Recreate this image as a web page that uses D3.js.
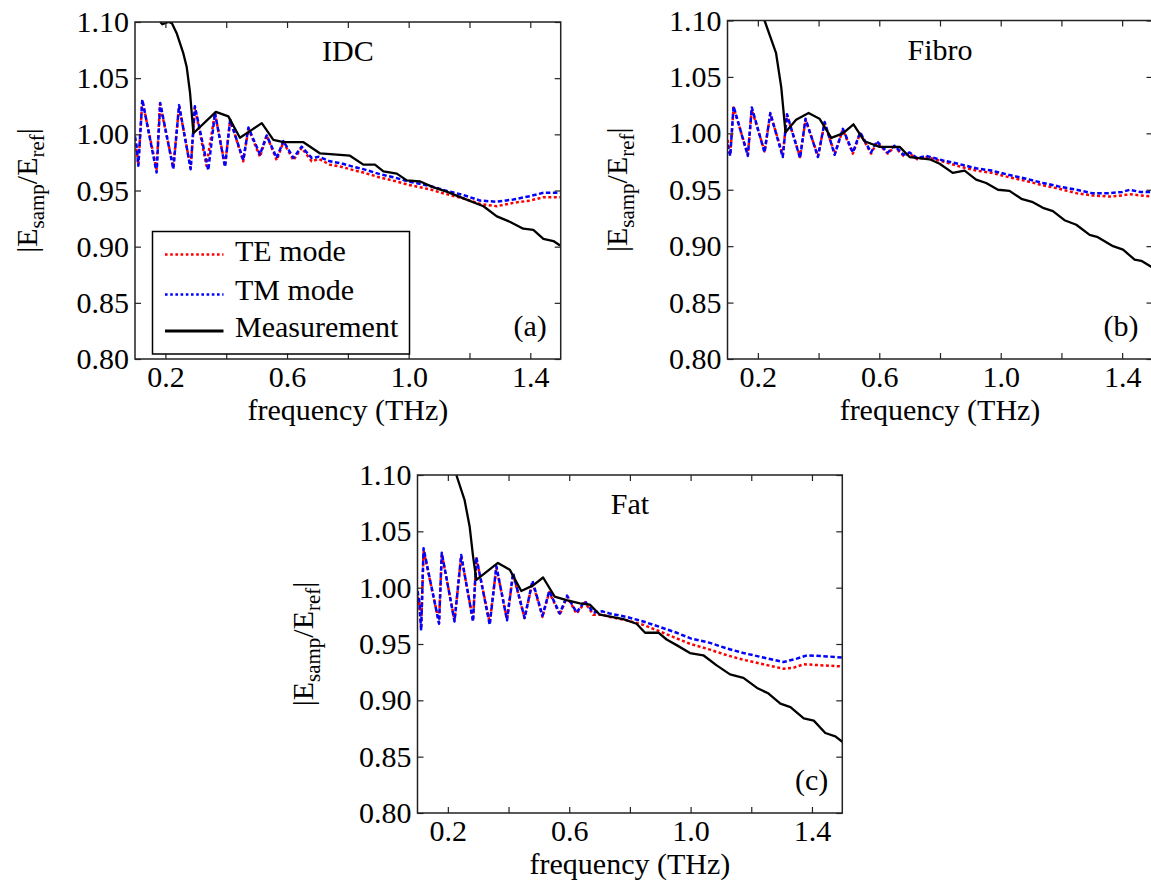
<!DOCTYPE html>
<html>
<head>
<meta charset="utf-8">
<script src="https://cdn.jsdelivr.net/npm/d3@7"></script>
<style>
body { margin: 0; background: #fff; }
svg text { fill: #000; }
</style>
</head>
<body>
<svg id="chart" width="1151" height="886"></svg>
<script>
// axis settings
var xDomain = [0.1, 1.5];
var yDomain = [0.80, 1.10];
var xTicks = [0.2, 0.4, 0.6, 0.8, 1.0, 1.2, 1.4];
var xLabeled = [0.2, 0.6, 1.0, 1.4];
var yTicks = [0.80, 0.85, 0.90, 0.95, 1.00, 1.05, 1.10];
var seriesNames = ["TE mode", "TM mode", "Measurement"];

// (a) IDC  -- [frequency THz, |Esamp/Eref|]
var idcTE = [[0.100,0.992],[0.106,0.985],[0.111,0.973],[0.124,1.030],[0.171,0.969],[0.182,1.027],[0.226,0.971],[0.245,1.025],[0.283,0.970],[0.297,1.024],[0.335,0.972],[0.363,1.019],[0.396,0.972],[0.413,1.013],[0.456,0.976],[0.473,1.005],[0.511,0.980],[0.533,0.999],[0.566,0.977],[0.588,0.993],[0.621,0.977],[0.648,0.988],[0.681,0.976],[0.705,0.978],[0.741,0.973],[0.78,0.971],[0.82,0.968],[0.851,0.966],[0.90,0.962],[0.961,0.958],[1.00,0.955],[1.07,0.951],[1.12,0.947],[1.18,0.943],[1.235,0.938],[1.29,0.936],[1.344,0.939],[1.399,0.941],[1.443,0.944],[1.498,0.944]];
var idcTM = [[0.100,0.998],[0.105,0.990],[0.111,0.972],[0.124,1.031],[0.171,0.966],[0.183,1.028],[0.226,0.969],[0.245,1.026],[0.283,0.969],[0.297,1.025],[0.341,0.968],[0.363,1.019],[0.396,0.971],[0.413,1.013],[0.456,0.977],[0.473,1.006],[0.511,0.982],[0.533,0.999],[0.566,0.979],[0.588,0.994],[0.621,0.979],[0.648,0.989],[0.681,0.979],[0.705,0.980],[0.741,0.976],[0.78,0.974],[0.82,0.971],[0.851,0.969],[0.90,0.965],[0.961,0.961],[1.00,0.958],[1.07,0.954],[1.12,0.950],[1.18,0.946],[1.235,0.941],[1.29,0.940],[1.344,0.942],[1.399,0.945],[1.443,0.948],[1.498,0.948]];
var idcMeas = [[0.183,1.100],[0.190,1.098],[0.210,1.100],[0.221,1.099],[0.237,1.090],[0.259,1.072],[0.270,1.060],[0.281,1.037],[0.292,1.001],[0.366,1.020],[0.407,1.016],[0.445,0.997],[0.484,1.004],[0.517,1.010],[0.555,0.995],[0.588,0.993],[0.654,0.993],[0.709,0.983],[0.807,0.981],[0.851,0.973],[0.889,0.973],[0.917,0.967],[0.961,0.965],[0.994,0.959],[1.038,0.958],[1.080,0.953],[1.125,0.949],[1.180,0.943],[1.246,0.936],[1.290,0.927],[1.334,0.922],[1.377,0.916],[1.410,0.915],[1.443,0.907],[1.476,0.905],[1.498,0.901]];

// (b) Fibro
var fibroTE = [[0.100,0.994],[0.109,0.981],[0.120,1.023],[0.167,0.981],[0.180,1.021],[0.222,0.984],[0.241,1.017],[0.282,0.981],[0.296,1.016],[0.339,0.979],[0.357,1.012],[0.398,0.980],[0.420,1.009],[0.453,0.982],[0.480,1.003],[0.513,0.982],[0.537,1.000],[0.573,0.982],[0.592,0.992],[0.628,0.982],[0.650,0.988],[0.680,0.980],[0.700,0.982],[0.725,0.977],[0.755,0.979],[0.81,0.975],[0.86,0.971],[0.919,0.967],[0.97,0.965],[1.029,0.961],[1.08,0.958],[1.139,0.954],[1.19,0.951],[1.249,0.947],[1.30,0.945],[1.359,0.944],[1.40,0.945],[1.425,0.946],[1.46,0.945],[1.50,0.944]];
var fibroTM = [[0.100,0.990],[0.109,0.980],[0.120,1.024],[0.167,0.980],[0.180,1.023],[0.222,0.983],[0.241,1.018],[0.282,0.979],[0.296,1.017],[0.339,0.978],[0.357,1.013],[0.398,0.979],[0.420,1.010],[0.453,0.981],[0.480,1.004],[0.513,0.983],[0.537,1.001],[0.573,0.983],[0.592,0.993],[0.628,0.983],[0.650,0.989],[0.680,0.981],[0.700,0.983],[0.725,0.978],[0.755,0.980],[0.81,0.976],[0.86,0.973],[0.919,0.969],[0.97,0.967],[1.029,0.963],[1.08,0.960],[1.139,0.956],[1.19,0.953],[1.249,0.950],[1.30,0.947],[1.359,0.947],[1.40,0.948],[1.425,0.950],[1.46,0.948],[1.50,0.948]];
var fibroMeas = [[0.222,1.100],[0.260,1.071],[0.277,1.041],[0.291,1.001],[0.326,1.012],[0.367,1.018],[0.403,1.013],[0.442,0.996],[0.480,1.000],[0.515,1.008],[0.551,0.993],[0.601,0.988],[0.667,0.988],[0.700,0.979],[0.766,0.977],[0.799,0.973],[0.842,0.965],[0.881,0.967],[0.919,0.959],[0.952,0.956],[0.991,0.950],[1.029,0.949],[1.068,0.942],[1.106,0.939],[1.139,0.934],[1.172,0.931],[1.210,0.923],[1.249,0.919],[1.293,0.910],[1.320,0.908],[1.370,0.900],[1.403,0.897],[1.441,0.888],[1.463,0.887],[1.500,0.881]];

// (c) Fat
var fatTE = [[0.100,0.992],[0.106,0.985],[0.112,0.964],[0.120,1.033],[0.171,0.969],[0.180,1.030],[0.222,0.971],[0.244,1.028],[0.283,0.971],[0.294,1.026],[0.338,0.969],[0.360,1.018],[0.395,0.972],[0.415,1.012],[0.453,0.973],[0.479,1.005],[0.512,0.974],[0.534,0.996],[0.569,0.976],[0.593,0.992],[0.624,0.977],[0.652,0.987],[0.679,0.976],[0.71,0.976],[0.734,0.974],[0.79,0.971],[0.844,0.967],[0.90,0.961],[0.954,0.955],[1.00,0.950],[1.064,0.945],[1.12,0.940],[1.174,0.936],[1.24,0.932],[1.306,0.928],[1.34,0.929],[1.373,0.932],[1.439,0.931],[1.501,0.930]];
var fatTM = [[0.100,0.997],[0.106,0.988],[0.112,0.962],[0.120,1.035],[0.171,0.968],[0.180,1.031],[0.222,0.970],[0.244,1.029],[0.283,0.970],[0.294,1.027],[0.338,0.967],[0.360,1.019],[0.395,0.971],[0.415,1.013],[0.453,0.973],[0.479,1.006],[0.512,0.975],[0.534,0.997],[0.569,0.977],[0.593,0.993],[0.624,0.978],[0.652,0.988],[0.679,0.978],[0.71,0.979],[0.734,0.977],[0.79,0.974],[0.844,0.970],[0.90,0.965],[0.954,0.960],[1.00,0.955],[1.064,0.951],[1.12,0.946],[1.174,0.942],[1.24,0.938],[1.306,0.934],[1.35,0.937],[1.384,0.940],[1.45,0.939],[1.501,0.938]];
var fatMeas = [[0.228,1.100],[0.255,1.078],[0.272,1.054],[0.283,1.028],[0.294,1.007],[0.365,1.022],[0.404,1.016],[0.442,0.997],[0.481,1.002],[0.514,1.009],[0.552,0.992],[0.591,0.989],[0.635,0.986],[0.668,0.985],[0.701,0.976],[0.778,0.972],[0.822,0.968],[0.850,0.960],[0.894,0.960],[0.921,0.954],[0.954,0.949],[0.998,0.942],[1.042,0.940],[1.086,0.931],[1.130,0.923],[1.174,0.920],[1.219,0.911],[1.257,0.906],[1.296,0.897],[1.329,0.894],[1.373,0.884],[1.406,0.882],[1.444,0.871],[1.477,0.868],[1.501,0.863]];

var serif = "'Liberation Serif', 'Times New Roman', serif";
var styles = [
  {color: "#ff0000", width: 2.5, dash: "3,2.5"},
  {color: "#0000ff", width: 2.5, dash: "4.5,2.5"},
  {color: "#000000", width: 2.3, dash: null}
];

var panels = [
  {title: "IDC", tag: "(a)", series: [idcTE, idcTM, idcMeas], left: 135, right: 560.7, top: 22, bottom: 359, ylabX: 37, legend: true},
  {title: "Fibro", tag: "(b)", series: [fibroTE, fibroTM, fibroMeas], left: 727.5, right: 1152.5, top: 20.5, bottom: 359, ylabX: 627, legend: false},
  {title: "Fat", tag: "(c)", series: [fatTE, fatTM, fatMeas], left: 417.5, right: 842.3, top: 475, bottom: 813, ylabX: 313, legend: false}
];

var svg = d3.select("#chart");
var fs = 30;

panels.forEach(function(p, pi) {
  var x = d3.scaleLinear().domain(xDomain).range([p.left, p.right]);
  var y = d3.scaleLinear().domain(yDomain).range([p.bottom, p.top]);
  var g = svg.append("g");

  g.append("clipPath").attr("id", "clip" + pi)
    .append("rect").attr("x", p.left).attr("y", p.top)
    .attr("width", p.right - p.left).attr("height", p.bottom - p.top);

  var line = d3.line().x(function(d) { return x(d[0]); }).y(function(d) { return y(d[1]); });

  p.series.forEach(function(s, i) {
    g.append("path").datum(s)
      .attr("d", line)
      .attr("clip-path", "url(#clip" + pi + ")")
      .style("fill", "none").style("stroke", styles[i].color)
      .style("stroke-width", styles[i].width)
      .style("stroke-dasharray", styles[i].dash)
      .style("stroke-linejoin", "round");
  });

  // axes, ticks pointing inward on all sides
  var bx = g.append("g").attr("transform", "translate(0," + p.bottom + ")")
    .call(d3.axisBottom(x).tickValues(xTicks).tickSize(-6).tickPadding(7)
      .tickFormat(function(d) { return xLabeled.indexOf(d) >= 0 ? d3.format(".1f")(d) : ""; }));
  var ly = g.append("g").attr("transform", "translate(" + p.left + ",0)")
    .call(d3.axisLeft(y).tickValues(yTicks).tickSize(-6).tickPadding(6).tickFormat(d3.format(".2f")));
  var tx = g.append("g").attr("transform", "translate(0," + p.top + ")")
    .call(d3.axisTop(x).tickValues(xTicks).tickSize(-6).tickFormat(""));
  var ry = g.append("g").attr("transform", "translate(" + p.right + ",0)")
    .call(d3.axisRight(y).tickValues(yTicks).tickSize(-6).tickFormat(""));
  [bx, ly, tx, ry].forEach(function(a) {
    a.attr("font-family", serif);
    a.select(".domain").remove();
    a.selectAll("line").style("stroke", "#222").style("stroke-width", 1.2);
    a.selectAll("text").style("font-size", fs + "px").style("font-family", serif);
  });

  g.append("rect").attr("x", p.left).attr("y", p.top)
    .attr("width", p.right - p.left).attr("height", p.bottom - p.top)
    .style("fill", "none").style("stroke", "#222").style("stroke-width", 1.5);

  // labels
  g.append("text").attr("x", (p.left + p.right) / 2).attr("y", p.bottom + 61)
    .attr("text-anchor", "middle").style("font-size", fs + "px").style("font-family", serif)
    .text("frequency (THz)");

  var yl = g.append("text")
    .attr("transform", "translate(" + p.ylabX + "," + (p.top + p.bottom) / 2 + ") rotate(-90)")
    .attr("text-anchor", "middle").style("font-size", fs + "px").style("font-family", serif);
  yl.append("tspan").text("|E");
  yl.append("tspan").attr("dy", 7).style("font-size", "21px").text("samp");
  yl.append("tspan").attr("dy", -7).text("/E");
  yl.append("tspan").attr("dy", 7).style("font-size", "21px").text("ref");
  yl.append("tspan").attr("dy", -7).text("|");

  g.append("text").attr("x", (p.left + p.right) / 2).attr("y", p.top + 39)
    .attr("text-anchor", "middle").style("font-size", fs + "px").style("font-family", serif)
    .text(p.title);
  g.append("text").attr("x", p.right - 14).attr("y", p.bottom - 23)
    .attr("text-anchor", "end").style("font-size", fs + "px").style("font-family", serif)
    .text(p.tag);

  if (p.legend) {
    var lg = g.append("g").attr("transform", "translate(152.5,231.5)");
    lg.append("rect").attr("width", 257).attr("height", 122.5)
      .style("fill", "#fff").style("stroke", "#000").style("stroke-width", 1.5);
    var rows = [23, 63, 99.5];
    seriesNames.forEach(function(n, i) {
      lg.append("line").attr("x1", 12.5).attr("x2", 71).attr("y1", rows[i]).attr("y2", rows[i])
        .style("stroke", styles[i].color).style("stroke-width", i == 2 ? 3 : 2.6)
        .style("stroke-dasharray", i == 2 ? null : "2.6,2.6");
      lg.append("text").attr("x", 82.5).attr("y", rows[i] + 5.5 + (i == 0 ? 0.5 : 0))
        .style("font-size", fs + "px").style("font-family", serif).text(n);
    });
  }
});
</script>
</body>
</html>
